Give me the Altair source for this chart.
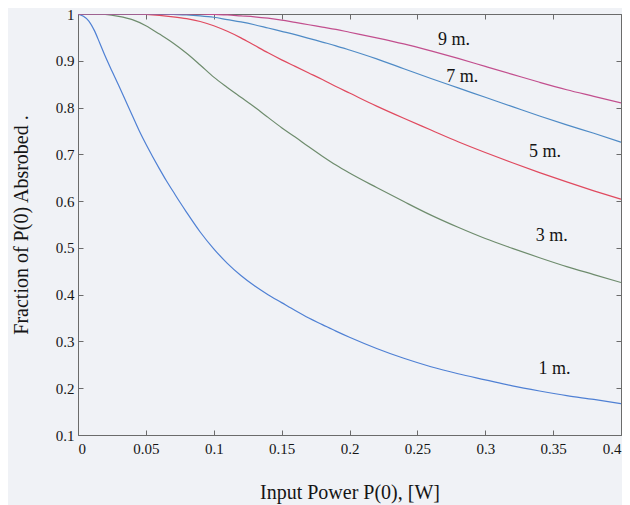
import altair as alt
import pandas as pd

# ---------------- data ----------------
series_names = ["1 m.", "3 m.", "5 m.", "7 m.", "9 m."]
series_colors = ["#4f80d4", "#6e8c6d", "#e04a5f", "#4f8bc6", "#c24f8e"]

x_1m = [0, 0.004, 0.008, 0.012, 0.016, 0.02, 0.025, 0.03, 0.035, 0.04, 0.045,
        0.05, 0.055, 0.06, 0.065, 0.07, 0.075, 0.08, 0.09, 0.1, 0.11, 0.12,
        0.13, 0.14, 0.15, 0.16, 0.17, 0.18, 0.19, 0.2, 0.22, 0.24, 0.26, 0.28,
        0.3, 0.32, 0.34, 0.36, 0.38, 0.4]
y_1m = [1.000, 0.995, 0.985, 0.965, 0.938, 0.910, 0.878, 0.847, 0.815, 0.783,
        0.751, 0.722, 0.695, 0.669, 0.644, 0.621, 0.598, 0.576, 0.534, 0.498,
        0.467, 0.441, 0.419, 0.400, 0.383, 0.366, 0.350, 0.336, 0.322, 0.309,
        0.285, 0.264, 0.246, 0.231, 0.218, 0.205, 0.194, 0.184, 0.176, 0.167]

x_grid = [0, 0.01, 0.02, 0.03, 0.04, 0.05, 0.06, 0.07, 0.08, 0.09, 0.1, 0.11,
          0.12, 0.13, 0.14, 0.15, 0.16, 0.17, 0.18, 0.19, 0.2, 0.22, 0.24,
          0.26, 0.28, 0.3, 0.32, 0.34, 0.36, 0.38, 0.4]
y_3m = [1.0, 1.0, 0.999, 0.995, 0.988, 0.975, 0.957, 0.938, 0.916, 0.891,
        0.865, 0.843, 0.822, 0.801, 0.779, 0.757, 0.737, 0.716, 0.696, 0.677,
        0.660, 0.629, 0.599, 0.570, 0.544, 0.520, 0.499, 0.479, 0.460, 0.443,
        0.426]
y_5m = [1.0, 1.0, 1.0, 1.0, 1.0, 0.999, 0.997, 0.994, 0.990, 0.984, 0.975,
        0.963, 0.949, 0.933, 0.917, 0.902, 0.888, 0.874, 0.860, 0.845, 0.831,
        0.803, 0.777, 0.752, 0.727, 0.704, 0.682, 0.661, 0.641, 0.622, 0.604]
y_7m = [1.0, 1.0, 1.0, 1.0, 1.0, 1.0, 1.0, 0.999, 0.998, 0.996, 0.993, 0.988,
        0.983, 0.977, 0.970, 0.963, 0.956, 0.948, 0.940, 0.932, 0.923, 0.904,
        0.883, 0.862, 0.842, 0.822, 0.802, 0.782, 0.763, 0.745, 0.726]
y_9m = [1.0, 1.0, 1.0, 1.0, 1.0, 1.0, 1.0, 1.0, 1.0, 1.0, 0.999, 0.998,
        0.996, 0.994, 0.991, 0.987, 0.982, 0.977, 0.972, 0.967, 0.961, 0.949,
        0.936, 0.921, 0.905, 0.888, 0.871, 0.854, 0.838, 0.824, 0.810]

label_text = ["9 m.", "7 m.", "5 m.", "3 m.", "1 m."]
label_x = [0.277, 0.283, 0.344, 0.349, 0.351]
label_y = [0.945, 0.865, 0.704, 0.526, 0.242]

x_ticks = [0, 0.05, 0.1, 0.15, 0.2, 0.25, 0.3, 0.35, 0.4]
y_ticks = [0.1, 0.2, 0.3, 0.4, 0.5, 0.6, 0.7, 0.8, 0.9, 1.0]

# ---------------- tables ----------------
rows = []
for name, xs, ys in [("1 m.", x_1m, y_1m), ("3 m.", x_grid, y_3m),
                     ("5 m.", x_grid, y_5m), ("7 m.", x_grid, y_7m),
                     ("9 m.", x_grid, y_9m)]:
    for i, (xv, yv) in enumerate(zip(xs, ys)):
        rows.append({"series": name, "x": xv, "y": yv, "order": i})
df = pd.DataFrame(rows)
labels_df = pd.DataFrame({"label": label_text, "x": label_x, "y": label_y})

font = "Liberation Serif"
frame = "#6b6b6b"
ink = "#151515"

xscale = alt.Scale(domain=[0, 0.4], nice=False, zero=False)
yscale = alt.Scale(domain=[0.1, 1.0], nice=False, zero=False)

common_axis = dict(domain=False, grid=False, tickSize=5, offset=-5,
                   tickColor=frame, tickWidth=1)

lines = alt.Chart(df).mark_line(strokeWidth=1.2, clip=True,
                                interpolate="monotone").encode(
    x=alt.X("x:Q", scale=xscale,
            axis=alt.Axis(orient="bottom", values=x_ticks, format="~g",
                          title="Input Power P(0), [W]", labelPadding=6,
                          titlePadding=26, **common_axis)),
    y=alt.Y("y:Q", scale=yscale,
            axis=alt.Axis(orient="left", values=y_ticks, format="~g",
                          title="Fraction of P(0) Absrobed .", labelPadding=4,
                          titlePadding=24, **common_axis)),
    color=alt.Color("series:N",
                    scale=alt.Scale(domain=series_names, range=series_colors),
                    legend=None),
    order="order:Q",
)

texts = alt.Chart(labels_df).mark_text(font=font, fontSize=18, color=ink).encode(
    x=alt.X("x:Q", scale=xscale, title=None,
            axis=alt.Axis(orient="top", values=x_ticks, labels=False,
                          **common_axis)),
    y=alt.Y("y:Q", scale=yscale, title=None,
            axis=alt.Axis(orient="right", values=y_ticks, labels=False,
                          **common_axis)),
    text="label:N",
)

chart = alt.layer(lines, texts).resolve_scale(
    x="independent", y="independent"
).properties(
    width=543,
    height=421,
    autosize=alt.AutoSizeParams(type="none"),
    padding={"left": 70, "top": 6, "right": 1, "bottom": 70},
    background="#f0f2f6",
).configure_view(
    stroke=frame, strokeWidth=1
).configure_axis(
    labelFont=font, labelFontSize=15, labelColor=ink,
    titleFont=font, titleFontSize=20, titleFontWeight="normal",
    titleColor=ink,
)

chart.save("out.html", embed_options={"renderer": "svg", "actions": False})
